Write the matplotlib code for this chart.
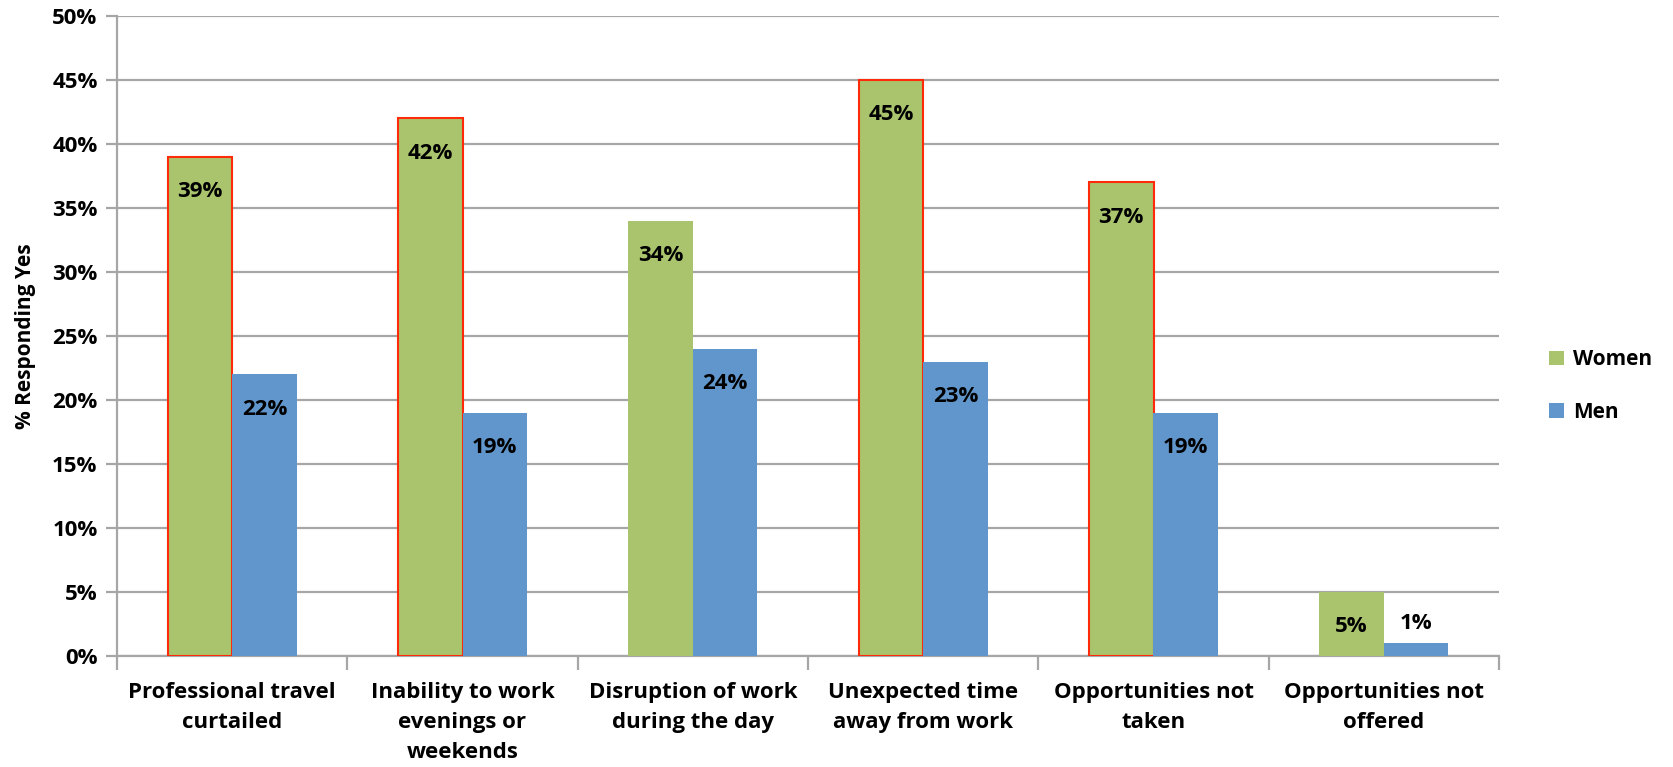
import numpy as np
import matplotlib
matplotlib.use('Agg')
import matplotlib.pyplot as plt

plt.rcParams['font.family'] = ['Open Sans', 'DejaVu Sans']
plt.rcParams['font.weight'] = 'bold'

categories = ['Professional travel\ncurtailed', 'Inability to work\nevenings or\nweekends',
              'Disruption of work\nduring the day', 'Unexpected time\naway from work',
              'Opportunities not\ntaken', 'Opportunities not\noffered']
women = [39, 42, 34, 45, 37, 5]
men = [22, 19, 24, 23, 19, 1]
women_outlined = [True, True, False, True, True, False]
yticks = [0, 5, 10, 15, 20, 25, 30, 35, 40, 45, 50]

green = '#A9C46C'
blue = '#6096CB'
grid = '#A6A6A6'

fig = plt.figure(figsize=(16.73, 7.67), dpi=100)
ax = fig.add_axes([117/1673, 1-656/767, (1499-117)/1673, (656-16)/767])

x = np.arange(len(categories))
w = 0.28
for i in x:
    ec = '#FF2A0A' if women_outlined[i] else 'none'
    ax.bar(i - w/2, women[i], w, color=green, edgecolor=ec, linewidth=1.5, zorder=3,
           label='Women' if i == 0 else None)
ax.bar(x + w/2, men, w, color=blue, zorder=3, label='Men')

# value labels, inside near the top unless bar too short
for vals, off in ((women, -w/2), (men, w/2)):
    for i, v in enumerate(vals):
        dy = -35 if v >= 3 else 20
        ax.annotate(f'{v}%', (i + off, v), xytext=(0, dy), textcoords='offset pixels',
                    ha='center', va='center', fontsize=16, fontweight='bold', zorder=4)

ax.set_xlim(-0.5, len(categories) - 0.5)
ax.set_ylim(0, 50)
ax.set_yticks(yticks)
ax.set_yticklabels([f'{t}%' for t in yticks], fontsize=16, fontweight='bold')
ax.yaxis.grid(True, color=grid, linewidth=1.6, zorder=0)
ax.tick_params(axis='y', length=8, width=1.6, color=grid, pad=6)

ax.set_xticks(x)
ax.set_xticklabels(categories, fontsize=16, fontweight='bold', linespacing=1.55)
ax.tick_params(axis='x', length=0, pad=19)
ax.set_xticks(np.arange(-0.5, len(categories)), minor=True)
ax.tick_params(axis='x', which='minor', length=10, width=1.6, color=grid, direction='out')

for s in ['top', 'right']:
    ax.spines[s].set_visible(False)
for s in ['left', 'bottom']:
    ax.spines[s].set_color(grid)
    ax.spines[s].set_linewidth(1.6)

ax.set_ylabel('% Responding Yes', fontsize=15, fontweight='bold', labelpad=12)

leg = fig.legend(loc='center left', bbox_to_anchor=(1549/1673, 1-386/767), frameon=False,
                 fontsize=15, handlelength=0.7, handleheight=0.7, handletextpad=0.45,
                 labelspacing=1.5, borderpad=0, borderaxespad=0)
for t in leg.get_texts():
    t.set_fontweight('bold')
for h in leg.legend_handles:
    h.set_edgecolor('none')

fig.savefig('out.png', dpi=100)
